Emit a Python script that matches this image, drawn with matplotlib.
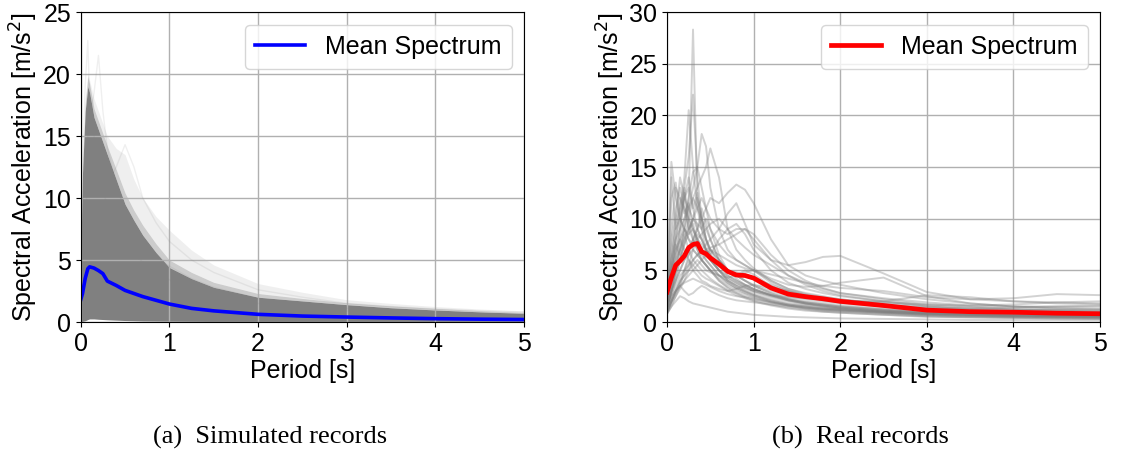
import matplotlib

matplotlib.use("Agg")
import matplotlib.pyplot as plt

# --- (a) simulated records: envelopes of the dense bundle, faint outliers, mean
sim_period = [0, 0.02, 0.05, 0.08, 0.1, 0.15, 0.2, 0.25, 0.3, 0.4, 0.5, 0.6,
              0.7, 0.85, 1.0, 1.25, 1.5, 2.0, 2.5, 3.0, 3.5, 4.0, 4.5, 5.0]
sim_dense_top = [5, 12, 17, 19, 18.5, 16.5, 15.5, 14.5, 13.5, 11.5, 9.5, 8.2,
                 7.0, 5.6, 4.4, 3.5, 2.8, 2.0, 1.7, 1.4, 1.15, 0.97, 0.82, 0.7]
sim_mid_top = [5.5, 12.5, 17.5, 19.8, 19.2, 17.2, 16.2, 15.2, 14.2, 12.3, 10.4, 9.0,
               7.8, 6.3, 5.0, 4.0, 3.2, 2.3, 1.9, 1.55, 1.3, 1.1, 0.92, 0.78]
sim_faint_top = [6, 13, 18, 20, 19.5, 18, 17, 16, 15, 14, 13.5, 11.5,
                 10, 8.5, 7.4, 5.8, 4.6, 3.1, 2.4, 1.8, 1.5, 1.25, 1.05, 0.9]
sim_bottom = [0, 0.05, 0.1, 0.2, 0.25, 0.25, 0.22, 0.2, 0.18, 0.15, 0.12, 0.1,
              0.08, 0.07, 0.06, 0.05, 0.04, 0.03, 0.03, 0.02, 0.02, 0.02, 0.02, 0.02]
sim_outliers = [
    [4, 12, 19, 22.7, 18, 15, 12, 10.5, 9.5, 8, 6.5, 5.6,
     4.8, 4, 3.4, 2.6, 2.1, 1.5, 1.1, 0.9, 0.75, 0.62, 0.55, 0.5],
    [3, 8, 13, 15, 16, 18.5, 21.5, 17, 14, 11, 9, 7.5,
     6.5, 5.3, 4.5, 3.5, 2.8, 1.9, 1.4, 1.1, 0.9, 0.78, 0.68, 0.6],
    [2, 6, 9, 11, 12, 12.5, 12, 11.5, 11, 12.5, 14.3, 12.5,
     10, 8, 6.5, 5, 4, 2.6, 2.0, 1.5, 1.25, 1.05, 0.9, 0.8],
]
sim_mean = [1.8, 2.3, 3.5, 4.3, 4.45, 4.35, 4.15, 3.9, 3.3, 2.95, 2.55, 2.3,
            2.05, 1.75, 1.45, 1.1, 0.9, 0.62, 0.48, 0.4, 0.33, 0.27, 0.23, 0.2]

# --- (b) real records
real_period = [0, 0.05, 0.1, 0.15, 0.2, 0.25, 0.3, 0.35, 0.4, 0.45, 0.5, 0.6,
               0.7, 0.8, 0.9, 1.0, 1.2, 1.4, 1.6, 1.8, 2.0, 2.5, 3.0, 3.5,
               4.0, 4.5, 5.0]
real_records = [
    [1.5, 3, 5, 7, 9, 12, 28.3, 12, 9, 7, 6, 5, 4, 3.5, 3, 2.6, 2.0, 1.6, 1.3, 1.1, 1.0, 0.8, 0.6, 0.5, 0.45, 0.4, 0.35],
    [2, 4, 6, 9, 13, 16, 22, 14, 10, 8, 7, 6, 5, 4.5, 4, 3.5, 2.8, 2.2, 1.8, 1.5, 1.3, 1.0, 0.8, 0.7, 0.6, 0.55, 0.5],
    [1.8, 5, 8, 11, 14, 20.5, 15, 11, 9, 8, 7, 5.5, 4.5, 4, 3.6, 3.2, 2.6, 2.1, 1.8, 1.6, 1.4, 1.1, 0.9, 0.8, 0.7, 0.65, 0.6],
    [1.5, 3, 5, 7, 9, 11, 13, 15, 18.2, 17, 13, 9, 7, 6, 5.5, 5, 3.8, 3, 2.5, 2.2, 2.0, 1.5, 1.2, 1.0, 0.9, 0.8, 0.7],
    [1.2, 2.5, 4, 6, 8, 10, 12, 13, 14, 15, 16.8, 14, 9, 7, 6, 5.2, 4, 3.2, 2.8, 2.5, 2.2, 1.7, 1.3, 1.1, 1.0, 0.9, 0.8],
    [3, 15.5, 12, 10, 9, 8, 7, 6.5, 6, 5.5, 5, 4.2, 3.6, 3.2, 2.8, 2.5, 2.0, 1.7, 1.5, 1.3, 1.2, 0.9, 0.7, 0.6, 0.5, 0.45, 0.4],
    [1.0, 2, 3, 4, 5, 6.5, 8, 9, 10, 11, 12, 11.5, 12.5, 13.3, 12.8, 11.5, 8, 5.5, 4.5, 4.0, 3.6, 2.8, 2.2, 1.8, 1.5, 1.4, 1.3],
    [1.5, 2.5, 3.5, 4.5, 5, 5.5, 6, 6.5, 7, 7.5, 8, 9, 10.5, 11.5, 9.5, 7.5, 6, 5.5, 5.8, 6.3, 6.4, 4.7, 2.9, 2.2, 2.0, 1.9, 1.8],
    [2.5, 9, 13, 12, 11, 10, 9, 8, 7, 6.5, 6, 5, 4.5, 4, 3.6, 3.2, 2.6, 2.2, 1.9, 1.7, 1.5, 1.2, 1.0, 0.9, 0.8, 0.75, 0.7],
    [2, 7, 10, 14, 12, 11, 10, 12, 10, 8, 7, 6, 5, 4.5, 4, 3.5, 2.8, 2.3, 2.0, 1.8, 1.6, 1.3, 1.1, 1.0, 0.9, 0.85, 0.8],
    [0.8, 1.5, 2.0, 2.5, 2.3, 2.0, 1.8, 1.7, 1.6, 1.5, 1.4, 1.2, 1.0, 0.9, 0.8, 0.7, 0.6, 0.5, 0.45, 0.4, 0.35, 0.3, 0.25, 0.2, 0.2, 0.2, 0.15],
    [1.2, 3, 4, 5, 6, 7, 8, 9, 8, 7, 6.5, 8, 9, 9.5, 8.5, 7, 5, 3.8, 3.2, 2.8, 2.5, 2.0, 1.6, 1.4, 1.2, 1.1, 1.0],
    [3, 6, 8, 9, 10, 11, 12, 11, 10, 9, 8, 6, 5, 4.8, 4.5, 4.2, 3.6, 3.0, 2.6, 2.3, 2.1, 1.9, 1.7, 1.6, 1.7, 1.9, 2.0],
    [0.8, 1.5, 2.5, 3.5, 4, 4.5, 5, 5.5, 6, 6.5, 7, 6.5, 6, 5.5, 5.2, 5, 4.6, 4.2, 3.8, 3.5, 3.3, 3, 2.4, 2.2, 2.3, 2.7, 2.6],
    [1, 2, 3, 4, 4.5, 5, 5.5, 6, 5.5, 5, 4.8, 4.5, 4.3, 4.5, 4.8, 5.0, 4.2, 3.6, 3.4, 3.5, 3.8, 4.3, 2.5, 1.8, 1.5, 1.3, 1.2],
    [1.5, 3, 4, 5, 6, 6.5, 7, 6.5, 6, 5.5, 5, 4.5, 4, 3.6, 3.3, 3.0, 2.6, 2.4, 2.3, 2.2, 2.0, 2.0, 2.6, 2.4, 2.0, 1.8, 1.7],
    [2, 5, 7, 8, 7, 6, 5.5, 5, 4.5, 4.2, 4, 3.5, 3, 2.6, 2.3, 2.0, 1.6, 1.3, 1.1, 1.0, 0.9, 0.7, 0.55, 0.45, 0.4, 0.35, 0.3],
    [1.5, 4, 6, 7, 8, 9, 10, 9.5, 9, 10, 9, 7.5, 6.5, 6, 5.5, 5, 4, 3.2, 2.7, 2.4, 2.2, 1.8, 1.5, 1.3, 1.2, 1.1, 1.0],
    [1.0, 2, 3, 3.5, 3.8, 4, 4.2, 4.0, 3.8, 3.6, 3.4, 3.0, 2.7, 2.5, 2.4, 2.2, 1.9, 1.6, 1.4, 1.2, 1.1, 0.9, 0.7, 0.6, 0.55, 0.5, 0.45],
    [2.2, 8, 11, 13, 11, 9, 8, 7, 6, 5.5, 5, 4, 3.3, 2.8, 2.4, 2.1, 1.7, 1.4, 1.2, 1.0, 0.9, 0.7, 0.5, 0.45, 0.4, 0.35, 0.3],
    [1.5, 3, 4.5, 6, 7.5, 9, 10, 11, 12, 11, 10, 9, 8.5, 9, 9, 8, 6, 4.5, 3.6, 3.0, 2.6, 2.0, 1.5, 1.2, 1.0, 0.9, 0.8],
    [1.2, 2.5, 3, 3.5, 5, 6, 5, 4.5, 4, 3.8, 3.5, 3.2, 3.0, 3.2, 3.5, 3.6, 3.3, 3.0, 2.6, 2.2, 1.9, 1.6, 1.4, 1.3, 1.4, 1.5, 1.5],
    [2.5, 5, 6.5, 8, 9, 8, 7.5, 8.5, 8, 7, 6, 5, 4.2, 3.8, 3.4, 3.1, 2.6, 2.2, 1.9, 1.7, 1.5, 1.2, 0.9, 0.8, 0.7, 0.65, 0.6],
    [0.8, 1.8, 2.5, 3.2, 4, 5, 6, 6.5, 6.8, 7, 7.2, 7.5, 8, 8.5, 9, 8.5, 6.5, 5, 4, 3.3, 2.8, 2.2, 1.7, 1.5, 1.3, 1.2, 1.1],
    [1.8, 6, 9, 10, 12, 13, 11, 9, 8, 7, 6, 5, 4.3, 3.8, 3.4, 3.0, 2.5, 2.1, 1.8, 1.6, 1.4, 1.1, 0.9, 0.75, 0.65, 0.6, 0.55],
    [2.5, 14, 9, 11, 13, 10, 8, 7, 6, 5.5, 5, 4, 3.4, 3, 2.7, 2.4, 1.9, 1.6, 1.4, 1.2, 1.1, 0.9, 0.7, 0.6, 0.55, 0.5, 0.45],
    [2, 12, 13.5, 10, 12.5, 9, 9.5, 8, 7, 6, 5.5, 4.5, 3.8, 3.3, 3.0, 2.7, 2.2, 1.8, 1.6, 1.4, 1.3, 1.0, 0.8, 0.7, 0.6, 0.55, 0.5],
    [1.5, 4, 7, 9, 12, 14, 11, 12.5, 10, 8, 6.5, 5, 4, 3.5, 3.2, 2.9, 2.4, 2.0, 1.7, 1.5, 1.3, 1.0, 0.8, 0.7, 0.6, 0.55, 0.5],
    [1.2, 3, 5, 8, 10, 12, 14.5, 15, 13, 11, 9, 6.5, 5, 4.2, 3.6, 3.2, 2.6, 2.1, 1.8, 1.6, 1.4, 1.1, 0.9, 0.8, 0.7, 0.65, 0.6],
    [1.8, 5, 8, 10, 9, 8.5, 10, 9, 11, 9.5, 8, 6, 4.8, 4.5, 5, 4.6, 3.5, 2.8, 2.4, 2.1, 1.9, 1.5, 1.2, 1.1, 1.1, 1.2, 1.2],
    [1.0, 2, 3, 3.8, 4.5, 5.5, 7, 8, 8.5, 9, 9.5, 10, 9, 8, 7.2, 6.5, 5.5, 4.5, 3.8, 3.2, 2.8, 2.3, 1.9, 1.6, 1.5, 1.5, 1.6],
    [2.2, 6, 9.5, 12, 10.5, 11.5, 9, 7.5, 6.5, 6, 5.5, 4.5, 3.8, 3.3, 2.9, 2.6, 2.1, 1.7, 1.5, 1.3, 1.2, 1.0, 0.85, 0.75, 0.7, 0.65, 0.6],
    [0.9, 2, 2.8, 3.5, 3, 2.6, 2.8, 3.2, 3.5, 3.3, 3.0, 2.6, 2.3, 2.1, 2.0, 1.9, 1.7, 1.5, 1.3, 1.2, 1.1, 0.9, 0.75, 0.65, 0.6, 0.55, 0.5],
    [1.5, 3.5, 5, 6, 7.5, 8.5, 9, 8, 7.5, 7, 6.5, 5.5, 5, 4.5, 4, 3.6, 3.0, 2.5, 2.2, 2.0, 1.8, 1.5, 1.3, 1.2, 1.1, 1.0, 0.95],
    [2, 5, 7.5, 6.5, 8.5, 7, 6, 5.5, 5, 4.6, 4.2, 3.6, 3.1, 2.8, 2.5, 2.3, 1.9, 1.6, 1.4, 1.3, 1.2, 1.0, 0.8, 0.7, 0.65, 0.6, 0.55],
]
real_mean = [2.9, 4.3, 5.5, 5.9, 6.4, 7.2, 7.5, 7.6, 6.8, 6.6, 6.2, 5.6, 4.9,
             4.55, 4.5, 4.25, 3.3, 2.7, 2.45, 2.25, 2.0, 1.6, 1.15, 1.0, 0.95,
             0.85, 0.8]

plt.rcParams["font.family"] = ["Liberation Sans", "DejaVu Sans"]
plt.rcParams["font.size"] = 18

fig = plt.figure(figsize=(11.26, 4.62), dpi=100)
ax1 = fig.add_axes([0.0717, 0.303, 0.3937, 0.671])
ax2 = fig.add_axes([0.5924, 0.303, 0.3846, 0.671])

# dense bundle of simulated spectra, softened edge, faint outliers on top
ax1.fill_between(sim_period, sim_bottom, sim_dense_top, color="gray", lw=0)
ax1.fill_between(sim_period, sim_dense_top, sim_mid_top, color="gray",
                 alpha=0.4, lw=0)
ax1.fill_between(sim_period, sim_mid_top, sim_faint_top, color="gray",
                 alpha=0.12, lw=0)
for rec in sim_outliers:
    ax1.plot(sim_period, rec, color="gray", alpha=0.12, lw=1)
ax1.plot(sim_period, sim_mean, color="blue", lw=2.6, label="Mean Spectrum")
ax1.set_ylim(0, 25)
ax1.set_yticks(range(0, 26, 5))

for rec in real_records:
    ax2.plot(real_period, rec, color="gray", alpha=0.35, lw=1.4)
ax2.plot(real_period, real_mean, color="red", lw=3.4, label="Mean Spectrum")
ax2.set_ylim(0, 30)
ax2.set_yticks(range(0, 31, 5))

for ax in (ax1, ax2):
    ax.set_xlim(0, 5)
    ax.set_xticks(range(0, 6))
    ax.grid(True, color="#b0b0b0", lw=1)
    ax.set_xlabel("Period [s]", labelpad=2)
    ax.set_ylabel("Spectral Acceleration [m/s$^2$]", labelpad=2)
    ax.legend(loc="upper right")

fig.text(0.24, 0.054, "(a)  Simulated records", ha="center", va="center",
         family="Liberation Serif", fontsize=19)
fig.text(0.764, 0.054, "(b)  Real records", ha="center", va="center",
         family="Liberation Serif", fontsize=19)

fig.savefig("out.png", dpi=100)
